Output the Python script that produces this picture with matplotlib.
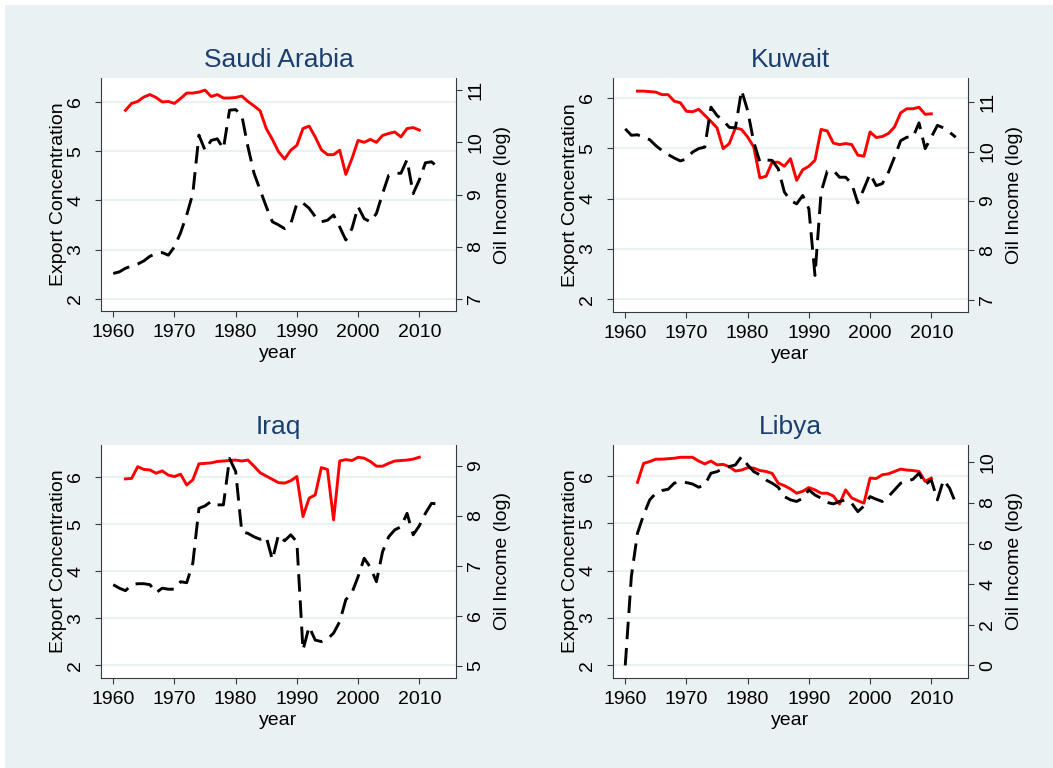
import matplotlib
matplotlib.use('Agg')
import matplotlib.pyplot as plt
from matplotlib.patches import Rectangle

plt.rcParams['font.family'] = ['Liberation Sans', 'DejaVu Sans']

# years
yrs_ec = list(range(1962, 2011))          # export concentration years
yrs_sa = list(range(1960, 2014))
yrs_kw = list(range(1960, 2015))
yrs_iq = list(range(1960, 2014))
yrs_ly = list(range(1960, 2015))

# Saudi Arabia
sa_ec = [5.83, 5.97, 6.01, 6.10, 6.15, 6.09, 6.00, 6.01,
         5.97, 6.07, 6.18, 6.18, 6.20, 6.24, 6.11, 6.15, 6.08, 6.08,
         6.09, 6.12, 6.01, 5.92, 5.82, 5.46, 5.24, 4.99, 4.84, 5.02,
         5.12, 5.46, 5.51, 5.29, 5.03, 4.93, 4.93, 5.02, 4.53, 4.85,
         5.22, 5.18, 5.24, 5.18, 5.32, 5.36, 5.39, 5.29, 5.46, 5.48, 5.43]
sa_oil = [7.49, 7.52, 7.59, 7.63, 7.67, 7.73, 7.82, 7.87, 7.89, 7.84,
          8.00, 8.27, 8.61, 9.02, 10.14, 9.85, 10.04, 10.07, 9.88, 10.62,
          10.63, 10.52, 9.92, 9.41, 9.09, 8.77, 8.48, 8.42, 8.35, 8.44,
          8.83, 8.84, 8.74, 8.58, 8.48, 8.51, 8.61, 8.38, 8.13, 8.35,
          8.77, 8.54, 8.48, 8.64, 9.02, 9.37, 9.41, 9.41, 9.67, 9.02,
          9.28, 9.61, 9.63, 9.53]

# Kuwait
kw_ec = [6.13, 6.13, 6.12, 6.11, 6.06, 6.06, 5.93, 5.90,
         5.73, 5.72, 5.77, 5.65, 5.53, 5.40, 4.99, 5.09, 5.40, 5.37,
         5.22, 5.02, 4.41, 4.44, 4.72, 4.72, 4.64, 4.79, 4.36, 4.57,
         4.64, 4.76, 5.37, 5.34, 5.10, 5.07, 5.09, 5.07, 4.86, 4.84,
         5.32, 5.21, 5.23, 5.29, 5.42, 5.70, 5.78, 5.78, 5.81, 5.67, 5.68]
kw_oil = [10.46, 10.33, 10.34, 10.29, 10.24, 10.12, 10.02, 9.94, 9.87, 9.81,
          9.85, 9.99, 10.06, 10.09, 10.90, 10.73, 10.63, 10.49, 10.48, 11.24,
          10.83, 10.19, 9.79, 9.83, 9.82, 9.65, 9.18, 9.01, 8.94, 9.11,
          8.84, 7.49, 9.18, 9.60, 9.62, 9.48, 9.48, 9.35, 8.96, 9.25,
          9.55, 9.31, 9.35, 9.58, 9.89, 10.22, 10.29, 10.29, 10.58, 10.06,
          10.29, 10.53, 10.48, 10.39, 10.29]

# Iraq
iq_ec = [5.96, 5.97, 6.22, 6.16, 6.15, 6.08, 6.13, 6.04,
         6.01, 6.06, 5.83, 5.94, 6.28, 6.29, 6.30, 6.33, 6.34, 6.35,
         6.36, 6.34, 6.36, 6.23, 6.09, 6.02, 5.95, 5.88, 5.87, 5.92,
         6.01, 5.16, 5.55, 5.62, 6.20, 6.16, 5.09, 6.34, 6.37, 6.35,
         6.42, 6.40, 6.33, 6.23, 6.23, 6.29, 6.34, 6.35, 6.36, 6.38, 6.42]
iq_oil = [6.62, 6.55, 6.50, 6.62, 6.64, 6.64, 6.62, 6.46, 6.55, 6.53,
          6.53, 6.68, 6.66, 7.05, 8.15, 8.20, 8.29, 8.22, 8.22, 9.15,
          8.89, 7.68, 7.65, 7.58, 7.53, 7.58, 7.12, 7.62, 7.50, 7.62,
          7.48, 5.31, 5.78, 5.51, 5.48, 5.53, 5.65, 5.88, 6.32, 6.46,
          6.78, 7.15, 6.97, 6.68, 7.28, 7.58, 7.72, 7.78, 8.05, 7.62,
          7.80, 8.05, 8.25, 8.24]

# Libya
ly_ec = [5.87, 6.27, 6.31, 6.36, 6.36, 6.37, 6.38, 6.40,
         6.40, 6.40, 6.32, 6.26, 6.32, 6.24, 6.25, 6.20, 6.11, 6.13,
         6.18, 6.17, 6.12, 6.10, 6.06, 5.85, 5.80, 5.73, 5.64, 5.68,
         5.76, 5.71, 5.64, 5.64, 5.58, 5.41, 5.71, 5.54, 5.48, 5.43,
         5.96, 5.95, 6.03, 6.05, 6.10, 6.15, 6.13, 6.12, 6.10, 5.89, 5.96]
ly_oil = [0.00, 4.38, 6.51, 7.41, 8.15, 8.48, 8.61, 8.67, 8.97, 9.05,
          9.00, 8.93, 8.77, 8.89, 9.46, 9.54, 9.70, 9.79, 9.87, 10.28,
          9.87, 9.54, 9.38, 9.13, 8.97, 8.77, 8.31, 8.15, 8.07, 8.23,
          8.64, 8.39, 8.23, 8.02, 7.95, 8.07, 8.15, 7.98, 7.57, 7.85,
          8.31, 8.18, 8.07, 8.31, 8.64, 8.97, 9.08, 9.16, 9.46, 8.89,
          9.13, 8.15, 9.13, 8.72, 7.98]

bg = '#EAF1F3'
navy = '#1A3F6F'
axcol = '#3a3a3a'

fig = plt.figure(figsize=(10.53, 7.68), dpi=100, facecolor='white')
fig.patches.append(Rectangle((5 / 1053, 0), 1, 1 - 5 / 768, transform=fig.transFigure,
                             facecolor=bg, edgecolor='none', zorder=-10))

panels = [
    ('Saudi Arabia', [101, 78, 456, 311], yrs_sa, sa_ec, sa_oil,
     (1.757, 6.486), (6.77, 11.236), [7, 8, 9, 10, 11]),
    ('Kuwait', [613, 78, 968, 312], yrs_kw, kw_ec, kw_oil,
     (1.75, 6.39), (6.75, 11.49), [7, 8, 9, 10, 11]),
    ('Iraq', [101, 445, 456, 678], yrs_iq, iq_ec, iq_oil,
     (1.73, 6.68), (4.75, 9.42), [5, 6, 7, 8, 9]),
    ('Libya', [613, 445, 968, 678], yrs_ly, ly_ec, ly_oil,
     (1.73, 6.66), (-0.62, 10.85), [0, 2, 4, 6, 8, 10]),
]

W, H = 1053, 768
for name, (x0, y0, x1, y1), yrs, ec, oil, ylim1, ylim2, rticks in panels:
    ax = fig.add_axes([x0 / W, 1 - y1 / H, (x1 - x0) / W, (y1 - y0) / H])
    ax.set_facecolor('white')
    ax.plot(yrs_ec, ec, color='red', lw=2.1, zorder=3)
    ax.set_xlim(1958, 2016)
    ax.set_ylim(*ylim1)
    ax.set_yticks([2, 3, 4, 5, 6])
    ax.set_xticks([1960, 1970, 1980, 1990, 2000, 2010])
    ax.grid(axis='y', color=bg, lw=1.6, zorder=0)
    ax.set_axisbelow(True)
    ax.set_title(name, color=navy, fontsize=19, pad=8)
    ax.set_xlabel('year', fontsize=14, labelpad=3)
    ax.set_ylabel('Export Concentration', fontsize=14, labelpad=0)
    ax.tick_params(axis='y', labelsize=14, labelrotation=90, length=4, pad=8, color=axcol)
    ax.tick_params(axis='x', labelsize=14, length=4, pad=5, color=axcol)
    for lbl in ax.get_yticklabels():
        lbl.set_va('center')
    ax.spines['top'].set_visible(False)
    ax.spines['right'].set_visible(False)
    ax.spines['left'].set_color(axcol)
    ax.spines['bottom'].set_color(axcol)

    ax2 = ax.twinx()
    ax2.plot(yrs, oil, color='black', lw=2.1, linestyle=(0, (6, 3)), zorder=3)
    ax2.set_ylim(*ylim2)
    ax2.set_yticks(rticks)
    ax2.set_ylabel('Oil Income (log)', fontsize=14, labelpad=7)
    ax2.tick_params(axis='y', labelsize=14, labelrotation=90, length=4, pad=4, color=axcol)
    for lbl in ax2.get_yticklabels():
        lbl.set_va('center')
    ax2.spines['top'].set_visible(False)
    ax2.spines['left'].set_visible(False)
    ax2.spines['bottom'].set_visible(False)
    ax2.spines['right'].set_color(axcol)

fig.savefig('out.png', dpi=100, facecolor=fig.get_facecolor())
